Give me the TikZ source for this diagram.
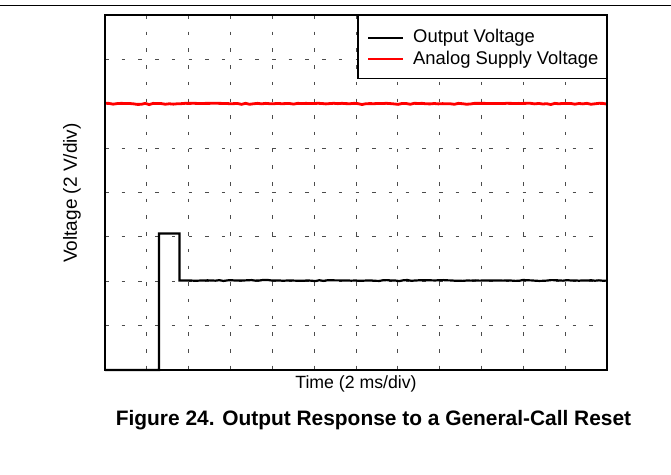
\documentclass[tikz,border=0pt]{standalone}
\usepackage{fontspec}
\setmainfont{Liberation Sans}
\begin{document}
\begin{tikzpicture}[x=1pt,y=-1pt,
	gridline/.style={line width=0.9pt,color=black!70,dash pattern=on 3.5pt off 13.2pt},
	trace/.style={line width=2.2pt,line join=miter},
	keyline/.style={line width=2.4pt},
	lbl/.style={font=\fontsize{18.4}{21}\selectfont,inner sep=0pt}]
 \useasboundingbox (0,0) rectangle (671,474);
 \draw [line width=0.8pt] (0,5)--(671,5);
 % grid, 12 x 8 divisions
 \foreach \i in {1,...,11} \draw [gridline] ({105+41.83*\i},15)--({105+41.83*\i},370);
 \foreach \j in {1,...,7} \draw [gridline] (105,{15+44.375*\j})--(607,{15+44.375*\j});
 % supply trace
 \pgfmathsetseed{7}
 \draw [trace,red,line width=2.8pt] (105,103.3) \foreach \k in {1,...,125} {-- ({105+4.016*\k},{103.3+1.4*rnd*rnd})};
 % output trace
 \draw [trace] (105,370)--(159,370)--(159,233.5)--(179.5,233.5)--(179.5,280.5)
   \foreach \k in {1,...,107} {-- ({179.5+3.995*\k},{280.5+0.7*rand*rnd})};
 \draw [line width=2.3pt] (105,15) rectangle (607,370);
 % legend
 \draw [line width=1.8pt,fill=white] (358,15) rectangle (607,78.5);
 \node (out) [lbl,anchor=base west] at (413,42.7) {Output Voltage};
 \node (sup) [lbl,anchor=base west] at (413,64) {Analog Supply Voltage};
 \draw [keyline] ([xshift=-45pt]out.west)--([xshift=-10pt]out.west);
 \draw [keyline,red] ([xshift=-45pt]sup.west)--([xshift=-10pt]sup.west);
 % axis labels
 \node (volt) [lbl,font=\fontsize{19}{22}\selectfont,rotate=90] at (72,193) {Voltage (2 V/div)};
 \node (time) [lbl,font=\fontsize{17.7}{20}\selectfont] at (356,384) {Time (2 ms/div)};
 \node (cap) [font=\bfseries\fontsize{20.9}{24}\selectfont,inner sep=0pt] at (373.5,420) {Figure 24. Output Response to a General-Call Reset};
\end{tikzpicture}
\end{document}
